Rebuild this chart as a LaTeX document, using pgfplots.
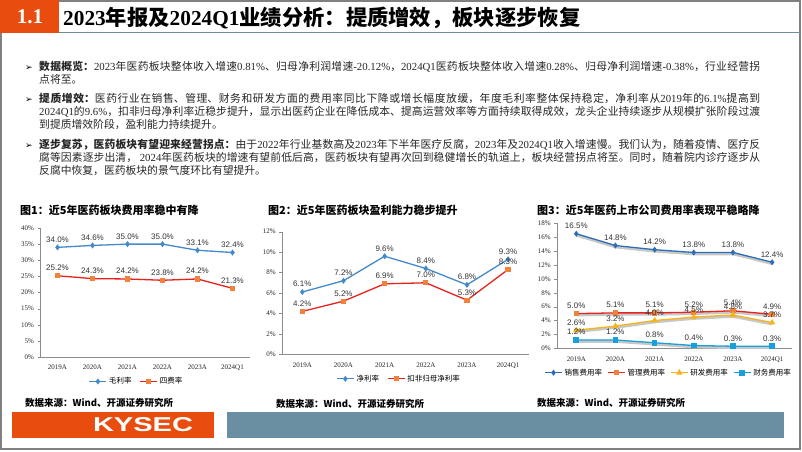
\documentclass[border=0pt]{standalone}
\usepackage{fontspec}
\usepackage{graphicx}
\usepackage{pgfplots}
\pgfplotsset{compat=1.18}
\setmainfont{Noto Sans CJK SC}
\newfontfamily\tnr{Liberation Serif}
\newfontfamily\arial{Liberation Sans}
\newfontfamily\dejavu{DejaVu Sans}
\XeTeXlinebreaklocale "zh"
\XeTeXlinebreakskip=0pt plus 2pt minus 0.2pt
\newcommand\lt[1]{{\tnr #1}}
\definecolor{korange}{RGB}{232,76,14}
\definecolor{kbar}{RGB}{106,143,163}
\definecolor{hline}{RGB}{112,140,158}
\definecolor{cblue}{RGB}{68,138,202}
\definecolor{cred}{RGB}{232,35,30}
\definecolor{corange}{RGB}{240,130,60}
\definecolor{cdblue}{RGB}{46,110,180}
\definecolor{cgold}{RGB}{245,180,25}
\definecolor{ccyan}{RGB}{25,160,220}
\pgfplotsset{
  mychart/.style={scale only axis, anchor=south west, clip=false,
    xmin=-0.5, xmax=5.5, xtick={0,...,5},
    xticklabels={2019A,2020A,2021A,2022A,2023A,2024Q1},
    axis x line*=bottom, axis y line*=left, axis line style={black!45,-},
    tick align=outside, major tick length=2.5pt,
    xtick style={draw=none}, ytick style={black!45},
    tick label style={font=\tnr\fontsize{7}{8}\selectfont, text=black!85},
    /pgf/number format/assume math mode=true,
    yticklabel={\pgfmathprintnumber[assume math mode=true]{\tick}\%},
    xticklabel style={yshift=-2pt},
    legend style={draw=none, fill=none, font=\fontsize{7.5}{8}\selectfont,
      legend columns=-1, /tikz/every even column/.append style={column sep=6pt},
      anchor=center},
  },
  lab/.style={nodes near coords={\pgfmathprintnumber[fixed,fixed zerofill,precision=1,assume math mode=true]{\pgfplotspointmeta}\%},
    every node near coord/.append style={font=\arial\fontsize{8}{9}\selectfont, text=black!80, yshift=1pt}},
  shadow/.style={black!22, line width=2.6pt, yshift=-1.5pt, forget plot},
}
\begin{document}
\begin{tikzpicture}
\path[use as bounding box] (0,0) rectangle (802pt,-451pt);
\fill[white] (0,0) rectangle (802pt,-451pt);
\draw[black!50, line width=1.3pt] (1pt,-1pt) rectangle (800pt,-449pt);
\fill[korange] (0,0) rectangle (59pt,-33pt);
\draw[hline, line width=1.6pt] (59pt,-32.5pt) -- (801pt,-32.5pt);
\node[text=white, font=\tnr\bfseries\fontsize{21}{22}\selectfont] at (30pt,-17pt) {1.1};
\node[anchor=base west, inner sep=0, font=\bfseries\fontsize{21.3}{22}\selectfont] at (63pt,-25pt)
  {\lt{2023}年报及\lt{2024Q1}业绩分析：提质增效，板块逐步恢复};

% bullets
\foreach \yy in {70,102,148}{
  \node[anchor=base, inner sep=0, font=\dejavu\fontsize{9}{10}\selectfont] at (29pt,-\yy pt) {➢};
}
\node[anchor=base west, inner sep=0, text width=721pt, align=justify, font=\fontsize{10.8}{13}\selectfont, text=black!85] at (39pt,-70pt)
 {\tolerance=10000 \textbf{数据概览：}\lt{2023}年医药板块整体收入增速\lt{0.81\%}、归母净利润增速\lt{-20.12\%}，\lt{2024Q1}医药板块整体收入增速\lt{0.28\%}、归母净利润增速\lt{-0.38\%}，行业经营拐\linebreak 点将至。};
\node[anchor=base west, inner sep=0, text width=721pt, align=justify, font=\fontsize{10.8}{13}\selectfont, text=black!85] at (39pt,-102pt)
 {\tolerance=10000 \textbf{提质增效：}医药行业在销售、管理、财务和研发方面的费用率同比下降或增长幅度放缓，年度毛利率整体保持稳定，净利率从\lt{2019}年的\lt{6.1\%}提高到\linebreak \lt{2024Q1}的\lt{9.6\%}，扣非归母净利率近稳步提升，显示出医药企业在降低成本、提高运营效率等方面持续取得成效，龙头企业持续逐步从规模扩张阶段过渡\linebreak 到提质增效阶段，盈利能力持续提升。};
\node[anchor=base west, inner sep=0, text width=721pt, align=justify, font=\fontsize{10.8}{13}\selectfont, text=black!85] at (39pt,-148pt)
 {\tolerance=10000 \textbf{逐步复苏，医药板块有望迎来经营拐点：}由于\lt{2022}年行业基数高及\lt{2023}年下半年医疗反腐，\lt{2023}年及\lt{2024Q1}收入增速慢。我们认为，随着疫情、医疗反\linebreak 腐等因素逐步出清，\lt{ 2024}年医药板块的增速有望前低后高，医药板块有望再次回到稳健增长的轨道上，板块经营拐点将至。同时，随着院内诊疗逐步从\linebreak 反腐中恢复，医药板块的景气度环比有望提升。};

% chart titles
\node[anchor=west, inner sep=0, font=\bfseries\fontsize{11}{12}\selectfont] at (20pt,-210pt) {图1：近5年医药板块费用率稳中有降};
\node[anchor=west, inner sep=0, font=\bfseries\fontsize{11}{12}\selectfont] at (268pt,-210pt) {图2：近5年医药板块盈利能力稳步提升};
\node[anchor=west, inner sep=0, font=\bfseries\fontsize{11}{12}\selectfont] at (537pt,-210pt) {图3：近5年医药上市公司费用率表现平稳略降};

% chart 1
\begin{axis}[mychart, at={(40pt,-357pt)}, width=210pt, height=129pt,
  ymin=0, ymax=40, ytick={0,5,...,40}, legend style={at={(0.46,-0.19)}}]
\addplot[cblue, line width=1.3pt, mark=diamond*, mark size=2pt, lab]
  coordinates {(0,34.0)(1,34.6)(2,35.0)(3,35.0)(4,33.1)(5,32.4)};
\addlegendentry{毛利率}
\addplot[cred, line width=1.3pt, mark=square*, mark size=2pt, mark options={fill=corange, draw=corange}, lab]
  coordinates {(0,25.2)(1,24.3)(2,24.2)(3,23.8)(4,24.2)(5,21.3)};
\addlegendentry{四费率}
\end{axis}

% chart 2
\begin{axis}[mychart, at={(281.7pt,-354.3pt)}, width=247pt, height=122.6pt,
  ymin=0, ymax=12, ytick={0,2,...,12}, legend style={at={(0.475,-0.2)}}]
\addplot[cblue, line width=1.3pt, mark=diamond*, mark size=2pt, lab]
  coordinates {(0,6.1)(1,7.2)(2,9.6)(3,8.4)(4,6.8)(5,9.3)};
\addlegendentry{净利率}
\addplot[cred, line width=1.3pt, mark=square*, mark size=2pt, mark options={fill=corange, draw=corange}, lab]
  coordinates {(0,4.2)(1,5.2)(2,6.9)(3,7.0)(4,5.3)(5,8.3)};
\addlegendentry{扣非归母净利率}
\end{axis}

% chart 3
\begin{axis}[mychart, at={(556.7pt,-348.3pt)}, width=235pt, height=125pt,
  ymin=0, ymax=18, ytick={0,2,...,18}, legend style={at={(0.476,-0.195)}, /tikz/every even column/.append style={column sep=3pt}}]
\addplot[shadow] coordinates {(0,16.5)(1,14.8)(2,14.2)(3,13.8)(4,13.8)(5,12.4)};
\addplot[shadow] coordinates {(0,5.0)(1,5.1)(2,5.1)(3,5.2)(4,5.4)(5,4.9)};
\addplot[shadow] coordinates {(0,2.6)(1,3.2)(2,4.0)(3,4.5)(4,4.8)(5,3.7)};
\addplot[shadow] coordinates {(0,1.2)(1,1.2)(2,0.8)(3,0.4)(4,0.3)(5,0.3)};
\addplot[cdblue, line width=1.3pt, mark=diamond*, mark size=2pt, lab]
  coordinates {(0,16.5)(1,14.8)(2,14.2)(3,13.8)(4,13.8)(5,12.4)};
\addlegendentry{销售费用率}
\addplot[cred, line width=1.3pt, mark=square*, mark size=2pt, mark options={fill=corange, draw=corange}, lab]
  coordinates {(0,5.0)(1,5.1)(2,5.1)(3,5.2)(4,5.4)(5,4.9)};
\addlegendentry{管理费用率}
\addplot[cgold, line width=1.3pt, mark=triangle*, mark size=2.4pt, lab]
  coordinates {(0,2.6)(1,3.2)(2,4.0)(3,4.5)(4,4.8)(5,3.7)};
\addlegendentry{研发费用率}
\addplot[ccyan, line width=1.3pt, mark=square*, mark size=2.2pt, lab]
  coordinates {(0,1.2)(1,1.2)(2,0.8)(3,0.4)(4,0.3)(5,0.3)};
\addlegendentry{财务费用率}
\end{axis}

% sources
\node[anchor=west, inner sep=0, font=\bfseries\fontsize{9.5}{10}\selectfont] at (25pt,-403pt) {数据来源：Wind、开源证券研究所};
\node[anchor=west, inner sep=0, font=\bfseries\fontsize{9.5}{10}\selectfont] at (276pt,-404pt) {数据来源：Wind、开源证券研究所};
\node[anchor=west, inner sep=0, font=\bfseries\fontsize{9.5}{10}\selectfont] at (537pt,-403pt) {数据来源：Wind、开源证券研究所};

% footer
\fill[korange] (12pt,-412pt) rectangle (214pt,-438pt);
\fill[kbar] (227pt,-412pt) rectangle (784pt,-438pt);
\node[text=white, inner sep=0] at (143pt,-425pt) {\resizebox{100pt}{14pt}{\arial\bfseries KYSEC}};
\end{tikzpicture}
\end{document}
